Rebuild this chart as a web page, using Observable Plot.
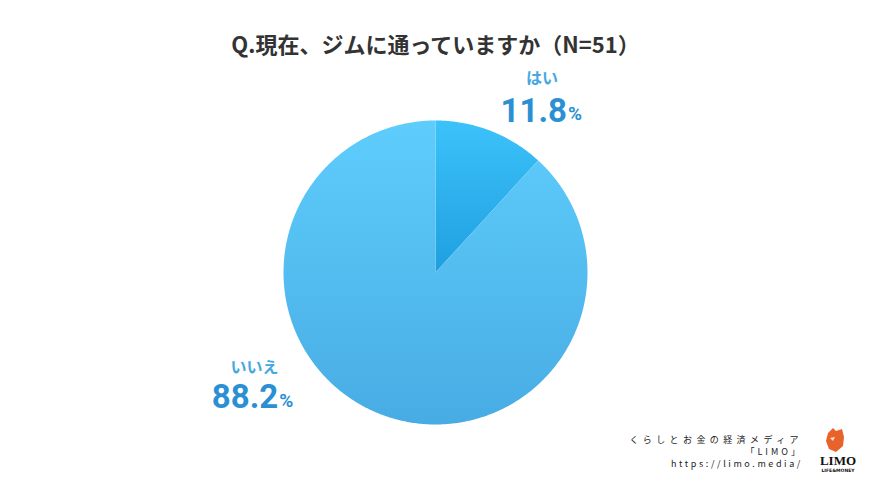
<!DOCTYPE html>
<html><head><meta charset="utf-8">
<script src="https://cdn.jsdelivr.net/npm/d3@7"></script>
<script src="https://cdn.jsdelivr.net/npm/@observablehq/plot@0.6"></script>
<style>body{margin:0;background:#fff;} svg{display:block;}</style>
</head><body><div id="chart"></div>
<script>
const title = "Q.現在、ジムに通っていますか（N=51）";
const categories = ["はい", "いいえ"];
const values = [11.8, 88.2];
const valueLabels = ["11.8", "88.2"];
const footerLines = ["くらしとお金の経済メディア", "「LIMO」", "https://limo.media/"];

const FONT = "'Noto Sans CJK JP','Noto Sans',sans-serif";
const gradients = [
  {id: "g0", top: "#3cc2fa", bottom: "#1f9fe0"},
  {id: "g1", top: "#5ecdfc", bottom: "#48ace4"}
];

// pie geometry from data
const arcs = d3.pie().sort(null)(values);
const slices = arcs.map((a, i) => {
  const pts = [{x: 0, y: 0}];
  const n = Math.max(8, Math.ceil((a.endAngle - a.startAngle) / 0.01));
  for (let k = 0; k <= n; k++) {
    const t = a.startAngle + (a.endAngle - a.startAngle) * k / n;
    pts.push({x: Math.sin(t), y: Math.cos(t)});
  }
  return pts;
});

// label anchor positions (in pie-radius units)
const labelPos = [
  {cx: 0.70, cyName: 1.275, cyVal: 1.06, split: 0.865},
  {cx: -1.19, cyName: -0.625, cyVal: -0.825, split: -1.035}
];
const labelRows = categories.map((c, i) => ({name: c, val: valueLabels[i], ...labelPos[i]}));

const svg = Plot.plot({
  width: 870, height: 489,
  margin: 0,
  x: {domain: [-1, 1], range: [283, 587], axis: null},
  y: {domain: [-1, 1], range: [424, 120], axis: null},
  marks: [
    ...slices.map((pts, i) => Plot.line(pts, {x: "x", y: "y", fill: `url(#${gradients[i].id})`, stroke: "none", curve: "linear-closed"})),
    Plot.text([title], {frameAnchor: "top", dy: 37, text: d => d, fontSize: 22, fontWeight: "bold", fill: "#333", fontFamily: FONT}),
    Plot.text(labelRows, {x: "cx", y: "cyName", text: "name", fontSize: 16, fontWeight: "bold", fill: "#45a8e0", fontFamily: FONT}),
    Plot.text(labelRows, {x: "split", y: "cyVal", text: "val", textAnchor: "end", fontSize: 33, fontWeight: "bold", fill: "#2b90d3", fontFamily: "Roboto,'Noto Sans',sans-serif"}),
    Plot.text(labelRows, {x: "split", y: "cyVal", text: () => "%", textAnchor: "start", dx: 1, dy: 3, fontSize: 19, fontWeight: "bold", fill: "#2b90d3", fontFamily: "Roboto,'Noto Sans',sans-serif"}),
    Plot.text(footerLines, {frameAnchor: "bottom-right", text: d => d, textAnchor: "end", fontSize: 9, fill: "#222", fontFamily: FONT}),
  ]
});

// gradients
const ns = "http://www.w3.org/2000/svg";
const defs = document.createElementNS(ns, "defs");
for (const g of gradients) {
  const lg = document.createElementNS(ns, "linearGradient");
  lg.setAttribute("id", g.id); lg.setAttribute("x1", "0"); lg.setAttribute("y1", "0"); lg.setAttribute("x2", "0"); lg.setAttribute("y2", "1");
  for (const [off, col] of [["0", g.top], ["1", g.bottom]]) {
    const s = document.createElementNS(ns, "stop");
    s.setAttribute("offset", off); s.setAttribute("stop-color", col);
    lg.appendChild(s);
  }
  defs.appendChild(lg);
}
svg.insertBefore(defs, svg.firstChild);

// footer text positioning and letter spacing
const ft = Array.from(svg.querySelectorAll("text")).filter(t => footerLines.includes(t.textContent));
const fy = [443, 455, 467];
ft.forEach((t, i) => {
  t.parentNode.removeAttribute("transform");
  t.removeAttribute("transform");
  t.setAttribute("x", 803);
  t.setAttribute("y", fy[i]);
  t.style.letterSpacing = i === 2 ? "2.6px" : (i === 1 ? "3px" : "4.4px");
});

// LIMO logo
const logo = document.createElementNS(ns, "g");
logo.innerHTML = `
  <path d="M828,433 L833,428 L836,431 L842,429 L844,437 L843,446 L836,452 L829,449 L826,441 Z" fill="#e8632a"/>
  <path d="M830,438 L835,437 L833,441 Z" fill="#fff" opacity="0.8"/>
  <text x="838" y="465" text-anchor="middle" font-family="'Liberation Serif',serif" font-weight="bold" font-size="13" fill="#111">LIMO</text>
  <text x="838" y="472" text-anchor="middle" font-family="'DejaVu Sans',sans-serif" font-weight="bold" font-size="4.5" fill="#111">LIFE&amp;MONEY</text>`;
svg.appendChild(logo);

document.getElementById("chart").appendChild(svg);
</script></body></html>
